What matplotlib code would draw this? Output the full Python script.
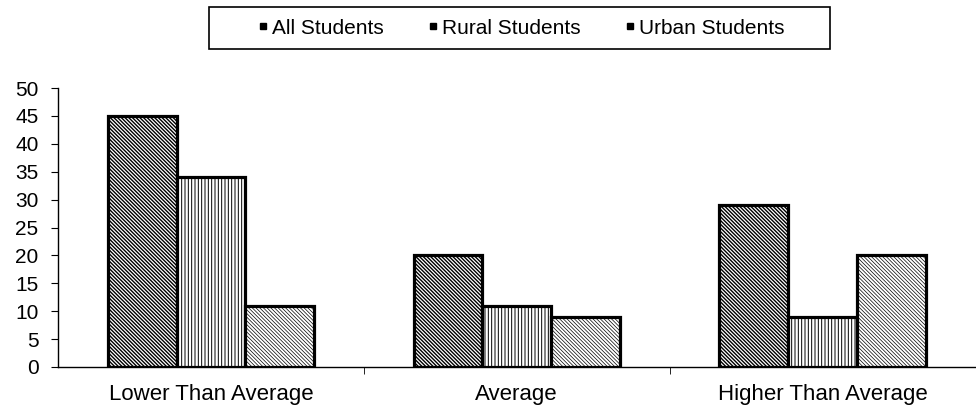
import matplotlib
matplotlib.use("Agg")
import matplotlib.pyplot as plt
from matplotlib.patches import Rectangle
from matplotlib.lines import Line2D
import numpy as np

categories = ["Lower Than Average", "Average", "Higher Than Average"]
series_names = ["All Students", "Rural Students", "Urban Students"]
all_students = [45, 20, 29]
rural_students = [34, 11, 9]
urban_students = [11, 9, 20]

plt.rcParams['font.family'] = ['Liberation Sans', 'DejaVu Sans']
plt.rcParams['hatch.linewidth'] = 0.9

fig = plt.figure(figsize=(9.76, 4.08), dpi=100)
ax = fig.add_axes([58/976, 41/408, 0.94, 279/408])

x = np.arange(len(categories))
w = 0.225
hatches = ['\\' * 9, '|' * 5, '\\' * 9]
hatch_lw = [1.0, 0.7, 0.5]
values = [all_students, rural_students, urban_students]
for i, (name, vals, h) in enumerate(zip(series_names, values, hatches)):
    bars = ax.bar(x + (i - 1) * w, vals, w, label=name, facecolor='white',
                  edgecolor='black', hatch=h, linewidth=2.3)
    for b in bars:
        try:
            b.set_hatch_linewidth(hatch_lw[i])
        except Exception:
            pass

ax.set_xlim(-0.5, 2.5)
ax.set_ylim(0, 50)
ax.set_yticks(range(0, 51, 5))
ax.tick_params(axis='y', labelsize=15, length=5, pad=9, direction='out')
ax.set_xticks(x)
ax.set_xticklabels(categories, fontsize=16)
ax.tick_params(axis='x', length=0, pad=12)
ax.set_xticks([0.5, 1.5], minor=True)
ax.tick_params(axis='x', which='minor', length=5, direction='out')
for s in ['top', 'right']:
    ax.spines[s].set_visible(False)
ax.spines['left'].set_linewidth(1)
ax.spines['bottom'].set_linewidth(1)

# legend frame
fig.patches.append(Rectangle((209/976, 1 - 49/408), (830 - 209)/976, 42/408,
                             transform=fig.transFigure, facecolor='white',
                             edgecolor='black', linewidth=1.2, zorder=0))
handles = [Line2D([], [], linestyle='none', marker='s', markersize=5,
                  markerfacecolor='black', markeredgecolor='black')
           for _ in series_names]
leg = fig.legend(handles, series_names, loc='center',
                 bbox_to_anchor=(522/976, 1 - 28/408), ncol=3,
                 fontsize=15, frameon=False,
                 handlelength=0.35, handletextpad=0.25,
                 columnspacing=2.2)

fig.savefig("out.png", dpi=100)
